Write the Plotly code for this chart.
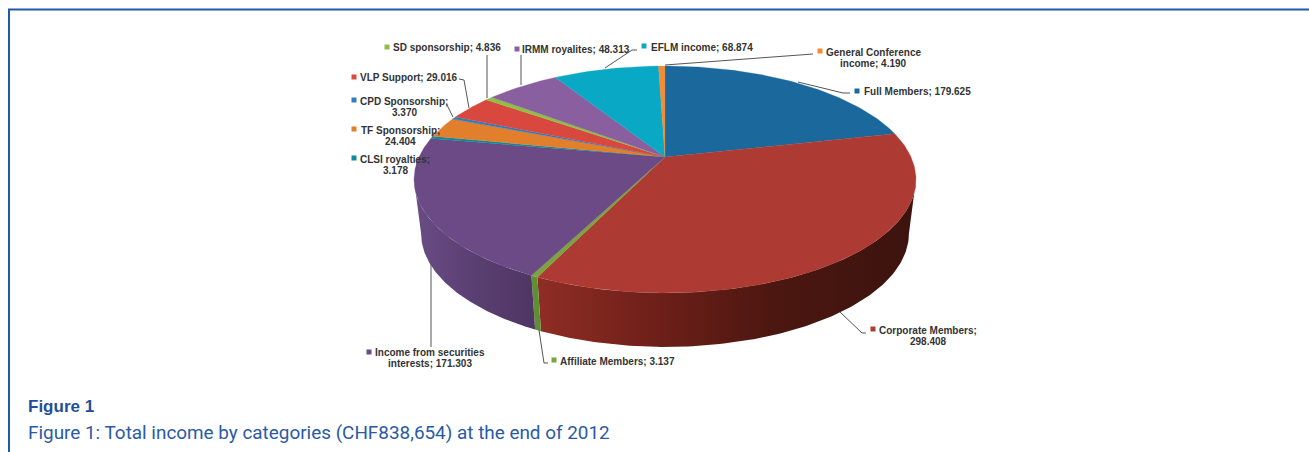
import numpy as np
import plotly.graph_objects as go

categories = ["Full Members", "Corporate Members", "Affiliate Members",
              "Income from securities interests", "CLSI royalties", "TF Sponsorship",
              "CPD Sponsorship", "VLP Support", "SD sponsorship", "IRMM royalites",
              "EFLM income", "General Conference income"]
values = [179.625, 298.408, 3.137, 171.303, 3.178, 24.404, 3.370, 29.016, 4.836, 48.313, 68.874, 4.190]
colors = ["#1a689c", "#ad3a33", "#7ba33f", "#6b4a85", "#0f8a9c", "#e17f2d",
          "#2f7cc0", "#d9483f", "#8fbf45", "#8a5f9f", "#09a9c6", "#f28c38"]

labels = [
    ["Full Members; 179.625"], ["Corporate Members;", "298.408"],
    ["Affiliate Members; 3.137"], ["Income from securities", "interests; 171.303"],
    ["CLSI royalties;", "3.178"], ["TF Sponsorship;", "24.404"],
    ["CPD Sponsorship;", "3.370"], ["VLP Support; 29.016"],
    ["SD sponsorship; 4.836"], ["IRMM royalites; 48.313"],
    ["EFLM income; 68.874"], ["General Conference", "income; 4.190"],
]
# label layout in pixels: centre x, first-line y, key x, key y
label_pos = [
    (917, 91, 857, 91), (928, 330, 873, 329), (617, 361, 554, 360),
    (430, 352, 369, 352), (395, 159, 354, 158), (400, 130, 354, 129),
    (404, 101, 354, 100), (409, 77, 354, 77), (447, 47, 387, 47),
    (576, 49, 517, 49), (702, 47, 644, 46), (873, 52, 820, 51),
]
# leader lines in pixels
leaders = [
    [(798, 82), (843, 93), (850, 93)], [(840, 312), (862, 333), (866, 333)],
    [(539, 330), (544, 363), (548, 363)], [(431, 262), (431, 347)],
    [(418, 170), (416, 160)], [(432, 137), (436, 131)],
    [(453, 117), (447, 105)], [(469, 108), (464, 80), (459, 79)],
    [(487, 98), (487, 55)], [(521, 85), (521, 55)],
    [(605, 68), (632, 50), (637, 50)], [(665, 65), (813, 54)],
]

CX, CY = 665.0, 157.0     # pie apex
A, B, K = 246.0, 109.0, 0.198  # perspective model of the top face
DEPTH = 54.0
BOTTOM_SCALE = 0.972      # the lower rim is narrower (perspective)

def project(theta, depth=0.0, scale=1.0):
    X, Y = np.sin(theta), np.cos(theta)
    d = 1 + K * Y
    return CX + scale * A * X / d, CY - B * Y / d + depth

fractions = np.array(values) / sum(values)
edges = np.concatenate([[0], np.cumsum(fractions)]) * 2 * np.pi

fig = go.Figure()

# side wall gradients, only the part of each slice that faces the viewer
side_scales = {
    1: [[0, "#8f2d25"], [0.3, "#6f2019"], [0.62, "#4c1710"], [1, "#3c130e"]],
    2: [[0, "#5f8f35"], [1, "#5f8f35"]],
    3: [[0, "#6a4c85"], [0.5, "#5a3f72"], [1, "#4f3562"]],
}
# wall from the right extreme (front side begins) to the left extreme
front_start = np.pi / 2 + np.arcsin(K)
front_end = 2 * np.pi - front_start
for i in range(len(values)):
    a0, a1 = max(edges[i], front_start), min(edges[i + 1], front_end)
    if a1 <= a0:
        continue
    t = np.linspace(a0, a1, 120)
    x1, y1 = project(t)
    x2, y2 = project(t[::-1], DEPTH, BOTTOM_SCALE)
    fig.add_trace(go.Scatter(
        x=np.r_[x1, x2], y=np.r_[y1, y2], mode="lines", fill="toself",
        line=dict(width=0), hoverinfo="skip", showlegend=False,
        fillgradient=dict(type="horizontal", colorscale=side_scales.get(i, [[0, colors[i]], [1, colors[i]]])),
    ))

# top face
for i, name in enumerate(categories):
    t = np.linspace(edges[i], edges[i + 1], max(3, int(fractions[i] * 400)))
    x, y = project(t)
    fig.add_trace(go.Scatter(
        x=np.r_[CX, x, CX], y=np.r_[CY, y, CY], mode="lines", fill="toself",
        fillcolor=colors[i], line=dict(width=0.3, color=colors[i]), name=name,
        text=f"{name}: {values[i]}", hoverinfo="text", showlegend=False,
    ))

# leader lines
for pts in leaders:
    fig.add_trace(go.Scatter(x=[p[0] for p in pts], y=[p[1] for p in pts], mode="lines",
                             line=dict(color="#555555", width=1), hoverinfo="skip", showlegend=False))

# label keys
fig.add_trace(go.Scatter(
    x=[p[2] for p in label_pos], y=[p[3] for p in label_pos], mode="markers",
    marker=dict(symbol="square", size=5, color=colors), hoverinfo="skip", showlegend=False))

annotations = []
for lines, (tx, ty, _, _) in zip(labels, label_pos):
    for n, line in enumerate(lines):
        annotations.append(dict(x=tx, y=ty + n * 11, text=f"<b>{line}</b>",
                                showarrow=False, xanchor="center", yanchor="middle", align="center",
                                font=dict(family="Liberation Sans", size=10, color="#333333")))
annotations.append(dict(x=26, y=406, text="<b>Figure 1</b>", showarrow=False, xanchor="left", yanchor="middle",
                        font=dict(family="Liberation Sans", size=17, color="#1f4f9c")))
annotations.append(dict(x=26, y=432, text="Figure 1: Total income by categories (CHF838,654) at the end of 2012",
                        showarrow=False, xanchor="left", yanchor="middle",
                        font=dict(family="Roboto", size=18.9, color="#2a5aa5")))

shapes = [dict(type="line", x0=9, x1=9, y0=9, y1=452, line=dict(color="#2158a8", width=2)),
          dict(type="line", x0=8, x1=1309, y0=9.5, y1=9.5, line=dict(color="#2158a8", width=2))]

fig.update_layout(
    width=1309, height=452, margin=dict(l=0, r=0, t=0, b=0), paper_bgcolor="white", plot_bgcolor="white",
    xaxis=dict(range=[0, 1309], visible=False, fixedrange=True),
    yaxis=dict(range=[452, 0], visible=False, fixedrange=True),
    annotations=annotations, shapes=shapes, showlegend=False,
)
fig.write_html("out.html", config=dict(displayModeBar=False),
               post_script="document.body.style.margin='0';document.documentElement.style.overflow='hidden';")
